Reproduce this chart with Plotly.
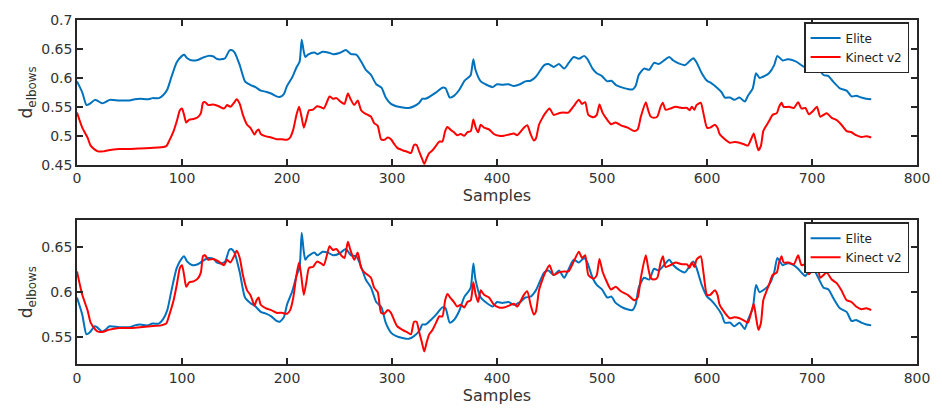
import plotly.graph_objects as go

# ---- data ----
elite_x = [0, 5, 9, 12, 17, 19, 24, 27, 31, 40, 50, 55, 60, 67, 72, 78, 82, 86, 90, 95,
           100, 102, 105, 110, 115, 120, 125, 130, 133, 137, 141, 145, 147, 150, 155, 160,
           165, 170, 175, 180, 185, 190, 193, 197, 200, 205, 209, 212, 214, 216, 217.5, 220,
           226, 229, 234, 239, 244, 250, 256, 261, 266, 271, 275, 280, 285, 290, 294, 299,
           304, 310, 316, 321, 326, 329, 332, 337, 342, 348, 351, 355, 359, 364, 369, 373,
           375, 377.5, 379.5, 384.5, 389, 396, 400, 405, 411, 416, 422, 427, 432, 437, 445,
           449, 454, 459, 464, 468, 473, 478, 483, 486, 491, 495, 500, 505, 509, 513, 518,
           524, 529, 532, 535, 540, 545, 549.5, 554, 559, 564, 568, 573, 579, 584, 587, 590,
           595, 600, 604, 609, 614, 617, 622, 626, 631, 636, 639, 643.6, 646.7, 650, 654.5,
           659, 664, 667, 672, 676.5, 681, 686, 690.6, 693.7, 697, 701.6, 706, 711, 715.7,
           720, 726.6, 733, 737.6, 742, 747, 751.7, 756.4]
elite_y = [0.594, 0.575, 0.553, 0.555, 0.562, 0.561, 0.556, 0.558, 0.562, 0.561, 0.561, 0.563,
           0.564, 0.563, 0.565, 0.565, 0.570, 0.580, 0.602, 0.627, 0.638, 0.640, 0.634, 0.630,
           0.631, 0.635, 0.638, 0.637, 0.633, 0.632, 0.634, 0.647, 0.648, 0.644, 0.622, 0.594,
           0.588, 0.584, 0.578, 0.576, 0.573, 0.568, 0.567, 0.572, 0.586, 0.601, 0.618, 0.628,
           0.666, 0.645, 0.636, 0.640, 0.644, 0.641, 0.645, 0.644, 0.641, 0.643, 0.648, 0.641,
           0.640, 0.627, 0.614, 0.605, 0.589, 0.583, 0.566, 0.555, 0.551, 0.549, 0.548, 0.551,
           0.557, 0.564, 0.564, 0.569, 0.575, 0.583, 0.582, 0.566, 0.569, 0.579, 0.595, 0.601,
           0.605, 0.632, 0.614, 0.594, 0.589, 0.584, 0.589, 0.588, 0.589, 0.586, 0.589, 0.594,
           0.595, 0.602, 0.622, 0.624, 0.619, 0.624, 0.616, 0.625, 0.636, 0.633, 0.638, 0.633,
           0.616, 0.608, 0.603, 0.594, 0.595, 0.588, 0.584, 0.581, 0.580, 0.586, 0.605, 0.616,
           0.614, 0.626, 0.624, 0.630, 0.636, 0.630, 0.625, 0.622, 0.630, 0.634, 0.627, 0.608,
           0.595, 0.591, 0.584, 0.575, 0.566, 0.566, 0.562, 0.566, 0.559, 0.569, 0.582, 0.608,
           0.600, 0.603, 0.608, 0.622, 0.638, 0.630, 0.632, 0.631, 0.627, 0.621, 0.618, 0.623,
           0.625, 0.616, 0.605, 0.603, 0.594, 0.582, 0.578, 0.568, 0.569, 0.566, 0.564, 0.563]

kinect_x = [0, 5, 10, 13, 17, 20, 25, 30, 40, 50, 60, 70, 80, 85, 88, 92, 95, 98, 100, 102,
            104, 107, 111, 115, 118, 120, 122, 125, 130, 135, 140, 143, 146, 150, 152, 155,
            158, 162, 165, 167, 169, 171, 173, 175, 180, 185, 190, 195, 200, 203, 206, 209,
            211.5, 213.6, 216, 218.4, 221, 224.7, 228.5, 232.6, 235, 238, 240.5, 243.7, 247,
            251.6, 254.7, 258, 260.4, 264, 267.4, 270.6, 273.7, 277, 280, 283, 286.4, 289.6,
            292.7, 296, 299, 302, 305, 310, 315, 318, 321, 323.4, 326, 328.5, 330.7, 333,
            335.4, 338.6, 342, 345, 348, 350.6, 352.8, 356, 359, 362, 365.5, 368.7, 371.8,
            375, 377.5, 379.7, 382, 384.5, 387.7, 392.4, 397, 402, 406.6, 411.4, 416, 419.3,
            422.5, 425.6, 428.8, 432, 435, 437, 440, 443, 446, 450, 454, 459, 463.6, 468, 473,
            478, 481, 484, 487, 492, 495, 497.6, 500.5, 504, 508.5, 513, 518, 524.5, 530.7,
            534, 537, 541.7, 544, 546.4, 549.5, 552.7, 555.8, 558, 560.5, 565, 570, 576, 581,
            583.4, 585.6, 588, 590, 594, 596.6, 600, 603, 607.5, 610, 612, 617, 621.6, 626,
            631, 635.7, 639, 642, 644.5, 646.7, 649, 651.4, 653.6, 656, 659, 662.4, 666.5,
            668.6, 671, 673, 678, 682.7, 686.8, 690, 693.7, 697, 701.6, 704.7, 707.8, 711,
            714, 718.8, 723.5, 728, 733, 737.6, 742, 747, 751.7, 756.4]
kinect_y = [0.540, 0.514, 0.497, 0.483, 0.476, 0.473, 0.473, 0.475, 0.477, 0.477, 0.478, 0.479,
            0.480, 0.482, 0.492, 0.508, 0.525, 0.544, 0.547, 0.536, 0.523, 0.528, 0.529, 0.532,
            0.539, 0.557, 0.558, 0.553, 0.554, 0.551, 0.547, 0.553, 0.550, 0.558, 0.563, 0.555,
            0.536, 0.519, 0.514, 0.508, 0.502, 0.508, 0.511, 0.503, 0.499, 0.497, 0.494, 0.494,
            0.493, 0.497, 0.511, 0.536, 0.550, 0.535, 0.514, 0.528, 0.544, 0.545, 0.551, 0.549,
            0.547, 0.558, 0.568, 0.564, 0.565, 0.558, 0.555, 0.573, 0.564, 0.553, 0.561, 0.544,
            0.539, 0.536, 0.533, 0.522, 0.517, 0.494, 0.493, 0.497, 0.494, 0.486, 0.479, 0.475,
            0.472, 0.470, 0.484, 0.484, 0.472, 0.461, 0.451, 0.461, 0.470, 0.475, 0.483, 0.490,
            0.490, 0.508, 0.515, 0.510, 0.506, 0.501, 0.503, 0.500, 0.506, 0.508, 0.528, 0.514,
            0.506, 0.519, 0.514, 0.511, 0.503, 0.500, 0.500, 0.502, 0.504, 0.501, 0.507, 0.514,
            0.518, 0.503, 0.492, 0.495, 0.519, 0.530, 0.539, 0.547, 0.536, 0.539, 0.540, 0.540,
            0.551, 0.562, 0.555, 0.558, 0.536, 0.532, 0.536, 0.554, 0.540, 0.530, 0.520, 0.523,
            0.518, 0.514, 0.508, 0.511, 0.533, 0.558, 0.544, 0.533, 0.531, 0.533, 0.550, 0.557,
            0.545, 0.547, 0.550, 0.548, 0.548, 0.544, 0.550, 0.545, 0.553, 0.557, 0.539, 0.514,
            0.514, 0.519, 0.514, 0.503, 0.494, 0.488, 0.489, 0.488, 0.485, 0.483, 0.494, 0.504,
            0.489, 0.475, 0.483, 0.508, 0.516, 0.525, 0.536, 0.539, 0.550, 0.557, 0.550, 0.550,
            0.548, 0.558, 0.547, 0.548, 0.537, 0.544, 0.550, 0.533, 0.536, 0.539, 0.531, 0.527,
            0.519, 0.508, 0.506, 0.501, 0.498, 0.499, 0.497]

# vertical shift applied to the Kinect curve in the lower (aligned) panel
kinect_offset = 0.083

x_ticks = [0, 100, 200, 300, 400, 500, 600, 700, 800]
y_ticks_top = [0.45, 0.5, 0.55, 0.6, 0.65, 0.7]
y_ticks_bottom = [0.55, 0.6, 0.65]

ELITE_C = "#0072BD"
KIN_C = "#FF0000"
FONT = "DejaVu Sans"
AX_C = "#262626"
LINE = dict(width=2, shape="spline", smoothing=0.6)

fig = go.Figure()
fig.add_trace(go.Scatter(x=elite_x, y=elite_y, mode="lines", name="Elite",
                         line=dict(color=ELITE_C, **LINE), xaxis="x", yaxis="y", legend="legend"))
fig.add_trace(go.Scatter(x=kinect_x, y=kinect_y, mode="lines", name="Kinect v2",
                         line=dict(color=KIN_C, **LINE), xaxis="x", yaxis="y", legend="legend"))
fig.add_trace(go.Scatter(x=elite_x, y=elite_y, mode="lines", name="Elite",
                         line=dict(color=ELITE_C, **LINE), xaxis="x2", yaxis="y2", legend="legend2"))
fig.add_trace(go.Scatter(x=kinect_x, y=[v + kinect_offset for v in kinect_y], mode="lines",
                         name="Kinect v2", line=dict(color=KIN_C, **LINE),
                         xaxis="x2", yaxis="y2", legend="legend2"))

axis_common = dict(showline=True, linecolor=AX_C, linewidth=1.5, mirror="ticks",
                   ticks="inside", ticklen=6, tickwidth=1.5, tickcolor=AX_C,
                   showgrid=False, zeroline=False,
                   tickfont=dict(family=FONT, size=14, color="#333333"))

legend_common = dict(xanchor="right", yanchor="top",
                     bgcolor="white", bordercolor="#262626", borderwidth=1.5,
                     font=dict(family=FONT, size=12, color="#222222"),
                     tracegroupgap=0, itemwidth=30)

fig.update_layout(
    width=942, height=411,
    margin=dict(l=77, r=15, t=16, b=36),
    paper_bgcolor="white", plot_bgcolor="white",
    showlegend=True,
    xaxis=dict(domain=[0, 1], range=[0, 800], tickvals=x_ticks, anchor="y",
               title=dict(text="Samples", font=dict(family=FONT, size=16, color="#333333"),
                          standoff=2),
               **axis_common),
    yaxis=dict(domain=[0.5794, 1], range=[0.45, 0.7], tickvals=y_ticks_top,
               ticktext=[str(v) for v in y_ticks_top], anchor="x",
               title=dict(text="d<sub>elbows</sub>", font=dict(family=FONT, size=17, color="#333333"),
                          standoff=4),
               **axis_common),
    xaxis2=dict(domain=[0, 1], range=[0, 800], tickvals=x_ticks, anchor="y2",
                title=dict(text="Samples", font=dict(family=FONT, size=16, color="#333333"),
                           standoff=2),
                **axis_common),
    yaxis2=dict(domain=[0, 0.4178], range=[0.52, 0.68], tickvals=y_ticks_bottom,
                ticktext=[str(v) for v in y_ticks_bottom], anchor="x2",
                title=dict(text="d<sub>elbows</sub>", font=dict(family=FONT, size=17, color="#333333"),
                           standoff=4),
                **axis_common),
    legend=dict(x=0.9906, y=0.994, **legend_common),
    legend2=dict(x=0.9906, y=0.412, **legend_common),
)

fig.write_html("out.html")
